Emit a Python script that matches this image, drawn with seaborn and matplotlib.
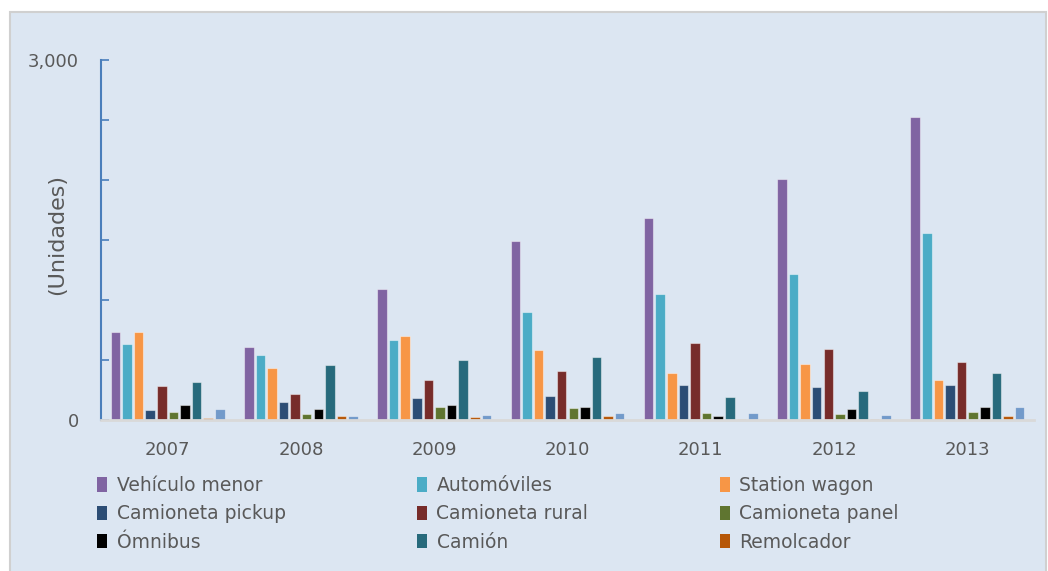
import pandas as pd
import seaborn as sns
import matplotlib.pyplot as plt
from matplotlib.patches import Rectangle, Patch

# --- data ---
years = ["2007", "2008", "2009", "2010", "2011", "2012", "2013"]
vehiculo_menor = [735, 605, 1090, 1490, 1685, 2010, 2525]
automoviles = [630, 540, 670, 900, 1050, 1215, 1560]
station_wagon = [735, 430, 700, 580, 390, 465, 335]
camioneta_pickup = [85, 150, 185, 200, 290, 275, 295]
camioneta_rural = [285, 215, 335, 410, 645, 595, 480]
camioneta_panel = [65, 50, 105, 100, 60, 50, 70]
omnibus = [125, 90, 125, 110, 35, 90, 105]
camion = [320, 455, 500, 525, 190, 240, 395]
remolcador = [15, 30, 25, 30, 12, 12, 30]
otros = [90, 30, 40, 60, 55, 40, 110]

series_names = ["Vehículo menor", "Automóviles", "Station wagon", "Camioneta pickup",
                "Camioneta rural", "Camioneta panel", "Ómnibus", "Camión",
                "Remolcador", "Otros"]
series_values = [vehiculo_menor, automoviles, station_wagon, camioneta_pickup,
                 camioneta_rural, camioneta_panel, omnibus, camion, remolcador, otros]
colors = ["#8064a2", "#4bacc6", "#f79646", "#2c4d75", "#772c2a",
          "#5f7530", "#000000", "#276a7c", "#b65708", "#729aca"]

rows = []
for name, vals in zip(series_names, series_values):
    for y, v in zip(years, vals):
        rows.append({"Año": y, "Tipo": name, "Unidades": v})
df = pd.DataFrame(rows)

# --- figure ---
bg = "#dce6f2"
txt = "#595959"
fig = plt.figure(figsize=(10.48, 5.71), dpi=100)
fig.patch.set_facecolor("white")
fig.patches.append(Rectangle((10 / 1048, -0.05), 1036 / 1048, 559 / 571 + 0.05,
                             transform=fig.transFigure, facecolor=bg,
                             edgecolor="#d0d0d0", linewidth=1.5, zorder=-10))

ax = fig.add_axes([101 / 1048, 151 / 571, 933 / 1048, 360 / 571])
ax.patch.set_alpha(0)

sns.barplot(data=df, x="Año", y="Unidades", hue="Tipo", palette=colors,
            saturation=1, width=0.87, gap=0.18, edgecolor=(1, 1, 1, 0.45),
            linewidth=0.8, ax=ax, legend=True)
ax.get_legend().remove()

# --- axes styling ---
ax.set_ylim(0, 3000)
ax.set_xlim(-0.5, 6.5)
ax.set_yticks(range(0, 3001, 500))
ax.set_yticklabels(["0", "", "", "", "", "", "3,000"])
ax.tick_params(axis="y", direction="in", length=6, width=1.2, color="#4a7ebb",
               labelsize=13, labelcolor=txt, pad=16)
ax.tick_params(axis="x", length=0, labelsize=13, labelcolor=txt, pad=15)
for s in ["top", "right"]:
    ax.spines[s].set_visible(False)
ax.spines["left"].set_color("#4a7ebb")
ax.spines["left"].set_linewidth(1.5)
ax.spines["bottom"].set_color("#d9d9d9")
ax.spines["bottom"].set_linewidth(2)

ax.set_xlabel("")
ax.set_ylabel("(Unidades)", fontsize=16, color=txt)
ax.yaxis.set_label_coords(-0.036, 0.514)

# --- legend: 3 columns, row-wise order, last series not shown ---
order = [0, 3, 6, 1, 4, 7, 2, 5, 8]
leg_handles = [Patch(facecolor=colors[i]) for i in order]
leg_labels = [series_names[i] for i in order]
fig.legend(leg_handles, leg_labels, ncol=3, loc="upper left",
           bbox_to_anchor=(80 / 1048, 1 - 459 / 571), frameon=False,
           fontsize=13.5, labelcolor=txt, handlelength=0.55, handleheight=0.8,
           handletextpad=0.5, columnspacing=7.0, labelspacing=0.5)

plt.savefig("out.png", dpi=100, facecolor=fig.get_facecolor())
